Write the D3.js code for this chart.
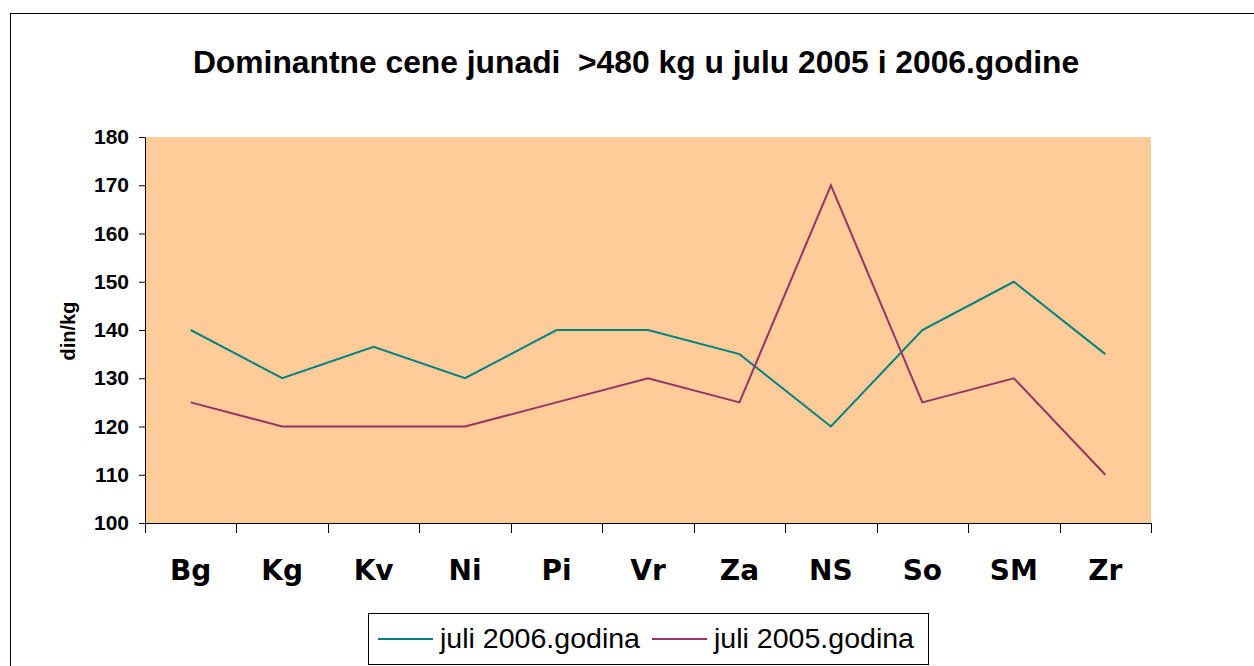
<!DOCTYPE html>
<html>
<head>
<meta charset="utf-8">
<script src="https://cdn.jsdelivr.net/npm/d3@7"></script>
<style>
  body { margin: 0; background: #fff; }
  svg { display: block; }
</style>
</head>
<body>
<div id="chart"></div>
<script>
// --- data ---
var categories = ["Bg", "Kg", "Kv", "Ni", "Pi", "Vr", "Za", "NS", "So", "SM", "Zr"];
var juli2006 = [140, 130, 136.5, 130, 140, 140, 135, 120, 140, 150, 135];
var juli2005 = [125, 120, 120, 120, 125, 130, 125, 170, 125, 130, 110];
var yTicks = [100, 110, 120, 130, 140, 150, 160, 170, 180];
var seriesNames = ["juli 2006.godina", "juli 2005.godina"];
var seriesColors = ["#008080", "#993366"];

var W = 1254, H = 666;
var plot = { left: 145, top: 137, right: 1151, bottom: 523 };

var svg = d3.select("#chart").append("svg")
  .attr("width", W).attr("height", H);

// outer chart border (runs off the right/bottom edge)
svg.append("rect")
  .attr("x", 10.5).attr("y", 13.5)
  .attr("width", 1260).attr("height", 700)
  .attr("fill", "#fff").attr("stroke", "#000").attr("stroke-width", 1);

// title
svg.append("text")
  .attr("x", 636).attr("y", 73)
  .attr("text-anchor", "middle")
  .attr("font-family", "Liberation Sans, Arial, sans-serif")
  .attr("font-weight", "bold")
  .attr("font-size", 31.8)
  .style("white-space", "pre")
  .text("Dominantne cene junadi  >480 kg u julu 2005 i 2006.godine");

var x = d3.scaleBand().domain(categories)
  .range([plot.left, plot.right]).paddingInner(0).paddingOuter(0);
var y = d3.scaleLinear().domain([100, 180]).range([plot.bottom, plot.top]);

// plot background
svg.append("rect")
  .attr("x", plot.left).attr("y", plot.top)
  .attr("width", plot.right - plot.left).attr("height", plot.bottom - plot.top)
  .attr("fill", "#FFCC99");

// y axis
var yAxis = svg.append("g")
  .attr("transform", "translate(" + plot.left + ",0)")
  .call(d3.axisLeft(y).tickValues(yTicks).tickSize(6).tickPadding(10).tickSizeOuter(0));
yAxis.select(".domain").attr("stroke", "#000");
yAxis.selectAll(".tick line").attr("stroke", "#000");
yAxis.selectAll(".tick text")
  .attr("font-family", "Liberation Sans, Arial, sans-serif")
  .attr("font-weight", "bold")
  .attr("font-size", 21)
  .attr("fill", "#000");

// x axis: ticks between categories
var xAxisG = svg.append("g");
xAxisG.append("line")
  .attr("x1", plot.left).attr("x2", plot.right)
  .attr("y1", plot.bottom + 0.5).attr("y2", plot.bottom + 0.5)
  .attr("stroke", "#000");
var boundaries = categories.map(function (c) { return x(c); }).concat([plot.right]);
xAxisG.selectAll(".xt").data(boundaries).enter().append("line")
  .attr("x1", function (d) { return Math.round(d) + 0.5; })
  .attr("x2", function (d) { return Math.round(d) + 0.5; })
  .attr("y1", plot.bottom).attr("y2", plot.bottom + 10)
  .attr("stroke", "#000");
xAxisG.selectAll(".xl").data(categories).enter().append("text")
  .attr("x", function (d) { return x(d) + x.bandwidth() / 2; })
  .attr("y", 580)
  .attr("text-anchor", "middle")
  .attr("font-family", "DejaVu Sans, Verdana, sans-serif")
  .attr("font-weight", "bold")
  .attr("font-size", 28)
  .text(function (d) { return d; });

// y axis title
svg.append("text")
  .attr("transform", "translate(75,331) rotate(-90)")
  .attr("text-anchor", "middle")
  .attr("font-family", "Liberation Sans, Arial, sans-serif")
  .attr("font-weight", "bold")
  .attr("font-size", 20)
  .text("din/kg");

// lines
var line = d3.line()
  .x(function (d, i) { return x(categories[i]) + x.bandwidth() / 2; })
  .y(function (d) { return y(d); });

[juli2006, juli2005].forEach(function (s, k) {
  svg.append("path")
    .datum(s)
    .attr("d", line)
    .attr("fill", "none")
    .attr("stroke", seriesColors[k])
    .attr("stroke-width", 2);
});

// legend
var lg = svg.append("g");
lg.append("rect")
  .attr("x", 368.5).attr("y", 613.5)
  .attr("width", 560).attr("height", 51)
  .attr("fill", "#fff").attr("stroke", "#000");
var legendX = [378, 652];
seriesNames.forEach(function (n, k) {
  lg.append("line")
    .attr("x1", legendX[k]).attr("x2", legendX[k] + 55)
    .attr("y1", 639).attr("y2", 639)
    .attr("stroke", seriesColors[k]).attr("stroke-width", 2);
  lg.append("text")
    .attr("x", legendX[k] + 62).attr("y", 648)
    .attr("font-family", "Liberation Sans, Arial, sans-serif")
    .attr("font-size", 27)
    .attr("textLength", 200)
    .attr("lengthAdjust", "spacingAndGlyphs")
    .text(n);
});
</script>
</body>
</html>
